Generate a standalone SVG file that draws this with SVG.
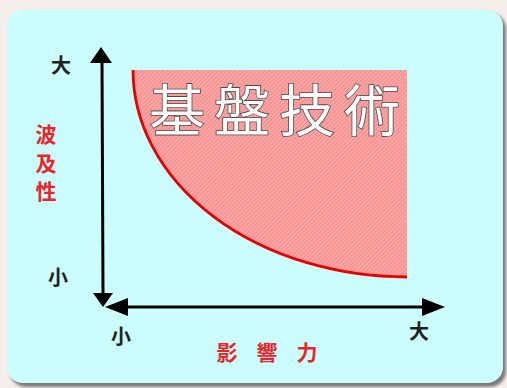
<svg xmlns="http://www.w3.org/2000/svg" width="507" height="388" viewBox="0 0 507 388">
<style>
.lbl{font-family:"Noto Sans CJK JP","Noto Sans CJK SC",sans-serif;font-weight:bold;font-size:20px;fill:#222;text-anchor:middle;dominant-baseline:central}
.red{font-family:"Noto Sans CJK JP","Noto Sans CJK SC",sans-serif;font-weight:bold;font-size:21px;fill:#e8262b;text-anchor:middle;dominant-baseline:central}
.axis{stroke:#000;stroke-width:3;fill:none}
.head{fill:#000}
.title{font-family:"Noto Sans CJK JP","Noto Sans CJK SC",sans-serif;font-weight:normal;font-size:56px;fill:#fff;stroke:#4a4a4a;stroke-width:1.6;paint-order:stroke;letter-spacing:9px}
</style>
<defs>
<pattern id="hatch" width="3" height="3" patternUnits="userSpaceOnUse" patternTransform="rotate(-45)">
<rect width="3" height="3" fill="#fba5a5"/>
<rect width="3" height="1" fill="#f18c8c"/>
</pattern>
<filter id="sh" x="-5%" y="-5%" width="110%" height="110%"><feGaussianBlur stdDeviation="1.5"/></filter>
</defs>
<rect width="507" height="388" fill="#f5eeeb"/>
<g id="panel">
<rect x="10" y="13" width="496" height="374" rx="16" fill="#7a7a7a" filter="url(#sh)"/>
<rect x="7" y="10" width="496" height="373" rx="16" fill="#ccfdfd"/>
</g>
<g id="region">
<path d="M133,70 A274,207 0 0 0 407,277 L407,70 Z" fill="url(#hatch)"/>
<path d="M133,70 A274,207 0 0 0 407,277" fill="none" stroke="#e60000" stroke-width="2.8"/>
<text class="title" x="149" y="131">基盤技術</text>
</g>
<g id="connectors">
<line class="axis" x1="102" y1="61" x2="103" y2="294"/>
<polygon class="head" points="101,47 90,63 112,63"/>
<polygon class="head" points="103,307 93,293 113,293"/>
<line class="axis" x1="126" y1="307" x2="424" y2="307"/>
<polygon class="head" points="105,307 128,298 128,316"/>
<polygon class="head" points="445,307 422,298 422,316"/>
</g>
<g id="y-labels">
<text class="lbl" x="61" y="64">大</text>
<text class="lbl" x="58" y="276">小</text>
<text class="red" x="46" y="133">波</text>
<text class="red" x="46" y="162">及</text>
<text class="red" x="46" y="190">性</text>
</g>
<g id="x-labels">
<text class="lbl" x="121" y="335">小</text>
<text class="lbl" x="419" y="330">大</text>
<text class="red" x="227" y="351">影</text>
<text class="red" x="267" y="351">響</text>
<text class="red" x="307" y="351">力</text>
</g>
</svg>
